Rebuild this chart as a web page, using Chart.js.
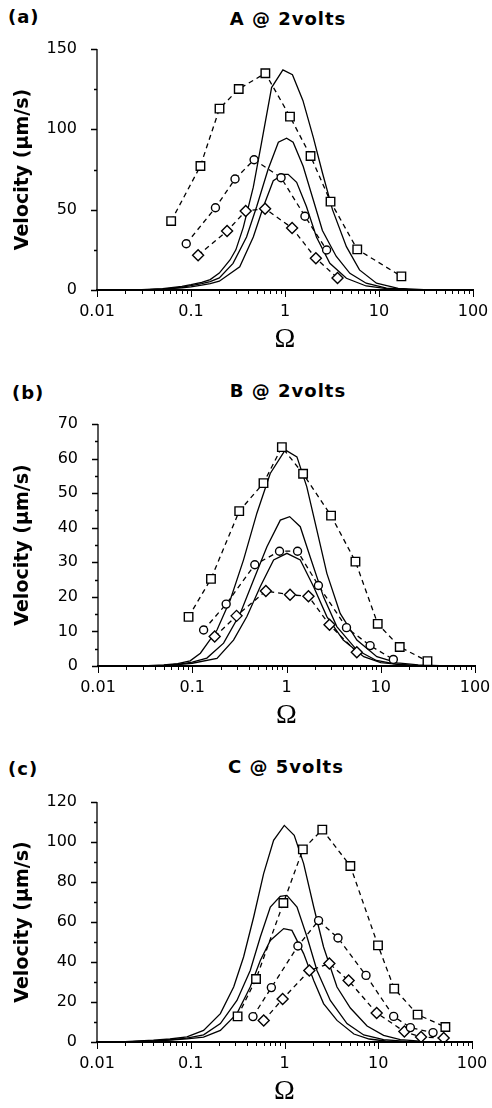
<!DOCTYPE html>
<html>
<head>
<meta charset="utf-8">
<script src="https://cdn.jsdelivr.net/npm/chart.js@4.4.1/dist/chart.umd.min.js"></script>
<style>
  body { margin: 0; background: #fff; }
  #page { position: relative; width: 492px; height: 1108px; overflow: hidden; background: #fff; }
  canvas { position: absolute; left: 0; }
  .lbl { position: absolute; font-family: 'DejaVu Sans'; font-weight: bold; font-size: 18px; line-height: 18px; white-space: nowrap; color: #000; letter-spacing: 1px; }
  .ttl { transform: translateX(-50%); }
</style>
</head>
<body>
<div id="page">
  <div class="lbl" style="left:8px;top:8px">(a)</div>
  <div class="lbl ttl" style="left:288px;top:10px">A @ 2volts</div>
  <div class="lbl" style="left:12px;top:384px">(b)</div>
  <div class="lbl ttl" style="left:288px;top:382px">B @ 2volts</div>
  <div class="lbl" style="left:8px;top:760px">(c)</div>
  <div class="lbl ttl" style="left:286px;top:758px">C @ 5volts</div>
  <canvas id="chartA"></canvas>
  <canvas id="chartB"></canvas>
  <canvas id="chartC"></canvas>
</div>
<script>
// x axis: frequency Omega (log), y axis: velocity in um/s
const xDecades = [0.01, 0.1, 1, 10, 100];

// (a) A @ 2volts - measured points
const aSquareOmega = [0.0615, 0.126, 0.201, 0.322, 0.618, 1.13, 1.87, 3.05, 5.87, 17.3];
const aSquareVel = [42.9, 77.2, 112.9, 125.1, 134.9, 107.9, 83.4, 55, 25.3, 8.5];
const aCircleOmega = [0.089, 0.182, 0.294, 0.469, 0.908, 1.63, 2.77];
const aCircleVel = [28.8, 51.2, 69.1, 81.1, 69.9, 45.9, 24.9];
const aDiamondOmega = [0.119, 0.242, 0.382, 0.614, 1.19, 2.13, 3.62];
const aDiamondVel = [21.6, 36.7, 49.2, 50.6, 38.6, 19.7, 7.5];
// (a) model curves
const aFitHighOmega = [0.02, 0.03, 0.05, 0.08, 0.1, 0.13, 0.16, 0.2, 0.26, 0.3, 0.36, 0.46, 0.56, 0.72, 0.95, 1.2, 1.55, 2, 2.5, 3.2, 4.5, 6.2, 9.4, 16, 30, 60, 100];
const aFitHighVel = [0, 0.2, 0.8, 2.2, 3.3, 4.8, 6.5, 10.5, 18.7, 25, 39, 64, 91, 126, 137, 134, 118, 95, 73, 50, 27, 12.5, 4.2, 1, 0.2, 0, 0];
const aFitMidOmega = [0.02, 0.03, 0.05, 0.08, 0.1, 0.13, 0.16, 0.2, 0.28, 0.39, 0.5, 0.66, 0.85, 1.04, 1.22, 1.56, 2, 2.5, 3.5, 4.9, 7.3, 12, 20, 40, 100];
const aFitMidVel = [0, 0.1, 0.6, 1.8, 2.7, 3.9, 5.2, 7.5, 16.6, 33, 52, 75, 92, 94.5, 92, 77, 56, 37, 21, 10.4, 4.2, 1.2, 0.3, 0, 0];
const aFitLowOmega = [0.02, 0.03, 0.05, 0.08, 0.1, 0.13, 0.16, 0.2, 0.33, 0.46, 0.59, 0.75, 0.96, 1.08, 1.33, 1.69, 2.16, 3, 4.5, 7.3, 12, 20, 40, 100];
const aFitLowVel = [0, 0.1, 0.5, 1.4, 2, 3, 4, 5.5, 14.5, 33, 52, 68, 72, 72, 67, 52, 33, 16.6, 7.3, 2.5, 0.8, 0.2, 0, 0];

// (b) B @ 2volts - measured points
const bSquareOmega = [0.0914, 0.158, 0.315, 0.57, 0.893, 1.5, 2.97, 5.39, 9.29, 15.9, 31.3];
const bSquareVel = [14.2, 25.2, 44.8, 52.9, 63.3, 55.6, 43.5, 30.2, 12.2, 5.5, 1.4];
const bCircleOmega = [0.132, 0.229, 0.461, 0.843, 1.31, 2.18, 4.33, 7.71, 13.6];
const bCircleVel = [10.4, 17.9, 29.3, 33.2, 33.2, 23.3, 11.1, 5.9, 1.9];
const bDiamondOmega = [0.173, 0.295, 0.604, 1.09, 1.71, 2.86, 5.57];
const bDiamondVel = [8.5, 14.5, 21.7, 20.6, 20.2, 11.9, 4.0];
// (b) model curves
const bFitHighOmega = [0.02, 0.03, 0.05, 0.07, 0.095, 0.122, 0.183, 0.253, 0.35, 0.485, 0.672, 0.97, 1.29, 1.64, 2.1, 2.68, 3.71, 5.58, 9.1, 15, 25, 50, 100];
const bFitHighVel = [0, 0.05, 0.3, 0.7, 1.5, 3.7, 10.4, 19.1, 30.7, 44.2, 55.7, 62.5, 60.5, 51.9, 39.3, 26.8, 15.2, 7.5, 2.7, 0.9, 0.3, 0, 0];
const bFitMidOmega = [0.02, 0.03, 0.05, 0.07, 0.1, 0.143, 0.215, 0.323, 0.447, 0.62, 0.86, 1.08, 1.4, 1.78, 2.47, 3.42, 5.58, 9, 15, 25, 50, 100];
const bFitMidVel = [0, 0.05, 0.2, 0.5, 1.1, 2.3, 6.6, 15.2, 24.9, 34.5, 42.2, 43.2, 40.3, 31.6, 20, 11.4, 4.6, 1.6, 0.5, 0.1, 0, 0];
const bFitLowOmega = [0.02, 0.03, 0.05, 0.07, 0.1, 0.183, 0.274, 0.38, 0.526, 0.73, 1.01, 1.4, 1.94, 2.68, 4, 6.6, 10, 20, 50, 100];
const bFitLowVel = [0, 0.03, 0.15, 0.4, 0.8, 2.2, 7.5, 14.3, 22.9, 30.7, 32.6, 30.7, 22.9, 14.3, 7.5, 2.7, 1, 0.2, 0, 0];

// (c) C @ 5volts - measured points
const cSquareOmega = [0.316, 0.497, 0.973, 1.57, 2.53, 5.04, 9.94, 14.8, 26.3, 52];
const cSquareVel = [12.8, 31.5, 69.5, 96.3, 106.2, 88, 48.3, 26.7, 13.7, 7.5];
const cCircleOmega = [0.461, 0.724, 1.39, 2.31, 3.72, 7.4, 14.6, 22, 38.4];
const cCircleVel = [12.7, 27.2, 48, 60.7, 52, 33.3, 12.8, 7.2, 4.7];
const cDiamondOmega = [0.6, 0.955, 1.84, 3.01, 4.83, 9.62, 19, 28.6, 49.9];
const cDiamondVel = [10.7, 21.5, 35.7, 39.2, 30.7, 14.5, 5.2, 2.5, 2.0];
// (c) model curves
const cFitHighOmega = [0.02, 0.04, 0.06, 0.091, 0.137, 0.207, 0.287, 0.366, 0.469, 0.599, 0.765, 0.995, 1.27, 1.6, 2.05, 2.61, 3.63, 5.04, 7.6, 11.4, 17.2, 30, 60, 100];
const cFitHighVel = [0.2, 0.9, 1.5, 2.6, 5.8, 14.2, 27.5, 42.5, 62.5, 84.2, 100.8, 108.3, 103.3, 89.2, 67.5, 47.5, 27.5, 17, 8, 3.3, 1.2, 0.3, 0, 0];
const cFitMidOmega = [0.02, 0.04, 0.06, 0.091, 0.137, 0.207, 0.311, 0.431, 0.552, 0.706, 0.9, 1.06, 1.36, 1.74, 2.22, 3.08, 4.64, 7, 11.4, 20, 50, 100];
const cFitMidVel = [0.1, 0.6, 1.1, 1.9, 3.6, 9.2, 20.8, 35.8, 52.5, 67.5, 72.8, 73.3, 67.5, 52.5, 35.8, 20.8, 9.2, 3.5, 1.2, 0.3, 0, 0];
const cFitLowOmega = [0.02, 0.04, 0.06, 0.091, 0.137, 0.207, 0.311, 0.431, 0.552, 0.706, 0.98, 1.2, 1.6, 2.05, 2.61, 3.63, 5.5, 8, 12, 20, 50, 100];
const cFitLowVel = [0.1, 0.5, 1, 1.6, 2.4, 5.8, 14.2, 27.5, 40.8, 50.8, 56.7, 55.8, 44.2, 30.8, 19.2, 10.8, 4, 1.5, 0.5, 0.1, 0, 0];

Chart.defaults.font.family = "'DejaVu Sans', sans-serif";
Chart.defaults.font.size = 16;
Chart.defaults.color = '#000';

function pairs(xs, ys) {
    return xs.map((x, i) => ({ x: x, y: ys[i] }));
}

function markerSet(xs, ys, style, radius) {
    return {
        data: pairs(xs, ys),
        showLine: true,
        borderColor: '#000',
        borderWidth: 1.3,
        borderDash: [5, 4],
        pointStyle: style,
        pointRadius: radius,
        pointBorderWidth: 1.4,
        pointBorderColor: '#000',
        pointBackgroundColor: '#fff',
        order: 0
    };
}

function fitSet(xs, ys) {
    return {
        data: pairs(xs, ys),
        showLine: true,
        borderColor: '#000',
        borderWidth: 1.3,
        pointRadius: 0,
        tension: 0,
        order: 1
    };
}

// axis lines and tick marks drawn like the paper figure
const paperAxes = {
    id: 'paperAxes',
    afterDatasetsDraw(chart, args, opts) {
        const { ctx, chartArea: area, scales: { x, y } } = chart;
        ctx.save();
        ctx.strokeStyle = '#000';
        ctx.setLineDash([]);

        ctx.lineWidth = 1.3;
        ctx.beginPath();
        ctx.moveTo(area.left, area.bottom);
        ctx.lineTo(area.left, area.top);
        for (let v = 0; v <= y.max + 1e-9; v += opts.minorStep) {
            const py = Math.round(y.getPixelForValue(v)) + 0.5;
            const major = Math.abs(v / opts.majorStep - Math.round(v / opts.majorStep)) < 1e-6;
            ctx.moveTo(area.left - (major ? 6 : 3), py);
            ctx.lineTo(area.left, py);
        }
        ctx.stroke();

        ctx.lineWidth = 1;
        ctx.beginPath();
        xDecades.forEach(d => {
            const last = d === xDecades[xDecades.length - 1];
            for (let m = 1; m <= (last ? 1 : 9); m++) {
                const px = Math.round(x.getPixelForValue(m * d)) + 0.5;
                ctx.moveTo(px, area.bottom);
                ctx.lineTo(px, area.bottom + (m === 1 ? 7 : 4));
            }
        });
        ctx.stroke();

        ctx.lineWidth = 2;
        ctx.beginPath();
        ctx.moveTo(area.left - 1, area.bottom);
        ctx.lineTo(area.right + 1, area.bottom);
        ctx.stroke();
        ctx.restore();
    }
};

function makePanel(id, box, yMax, yStep, yMinor, datasets) {
    const canvas = document.getElementById(id);
    canvas.width = 492;
    canvas.height = box.height;
    canvas.style.top = box.top + 'px';
    return new Chart(canvas.getContext('2d'), {
        type: 'scatter',
        data: { datasets: datasets },
        options: {
            responsive: false,
            animation: false,
            events: [],
            layout: {
                padding: { top: box.areaTop - box.top, right: 492 - box.areaRight, left: 0, bottom: 0 }
            },
            plugins: {
                legend: { display: false },
                tooltip: { enabled: false },
                paperAxes: { majorStep: yStep, minorStep: yMinor }
            },
            scales: {
                x: {
                    type: 'logarithmic',
                    min: 0.01,
                    max: 100,
                    // tick marks come from paperAxes; tickLength only spaces the labels
                    grid: { display: false, drawTicks: true, tickLength: 12 },
                    border: { display: false },
                    afterBuildTicks: scale => { scale.ticks = xDecades.map(v => ({ value: v })); },
                    afterFit: scale => { scale.height = box.height - (box.areaBottom - box.top); },
                    ticks: {
                        autoSkip: false,
                        maxRotation: 0,
                        padding: 0,
                        callback: v => String(v)
                    },
                    title: {
                        display: true,
                        text: 'Ω',
                        font: { family: "'Liberation Serif', serif", size: 28, lineHeight: 1 },
                        padding: { top: 0, bottom: 2 }
                    }
                },
                y: {
                    min: 0,
                    max: yMax,
                    grid: { display: false, drawTicks: true, tickLength: 20 },
                    border: { display: false },
                    afterFit: scale => { scale.width = box.areaLeft; },
                    ticks: { stepSize: yStep, padding: 0 },
                    title: {
                        display: true,
                        text: 'Velocity (μm/s)',
                        font: { size: 19, weight: 'bold' },
                        padding: { top: 12, bottom: 0 }
                    }
                }
            }
        },
        plugins: [paperAxes]
    });
}

makePanel('chartA', { top: 0, height: 356, areaTop: 49, areaBottom: 290, areaLeft: 97, areaRight: 473 }, 150, 50, 25, [
    markerSet(aSquareOmega, aSquareVel, 'rect', 6),
    markerSet(aCircleOmega, aCircleVel, 'circle', 4),
    markerSet(aDiamondOmega, aDiamondVel, 'rectRot', 5.5),
    fitSet(aFitHighOmega, aFitHighVel),
    fitSet(aFitMidOmega, aFitMidVel),
    fitSet(aFitLowOmega, aFitLowVel)
]);

makePanel('chartB', { top: 360, height: 372, areaTop: 424, areaBottom: 666, areaLeft: 98, areaRight: 475 }, 70, 10, 5, [
    markerSet(bSquareOmega, bSquareVel, 'rect', 6),
    markerSet(bCircleOmega, bCircleVel, 'circle', 4),
    markerSet(bDiamondOmega, bDiamondVel, 'rectRot', 5.5),
    fitSet(bFitHighOmega, bFitHighVel),
    fitSet(bFitMidOmega, bFitMidVel),
    fitSet(bFitLowOmega, bFitLowVel)
]);

makePanel('chartC', { top: 738, height: 370, areaTop: 802, areaBottom: 1042, areaLeft: 97, areaRight: 472 }, 120, 20, 10, [
    markerSet(cSquareOmega, cSquareVel, 'rect', 6),
    markerSet(cCircleOmega, cCircleVel, 'circle', 4),
    markerSet(cDiamondOmega, cDiamondVel, 'rectRot', 5.5),
    fitSet(cFitHighOmega, cFitHighVel),
    fitSet(cFitMidOmega, cFitMidVel),
    fitSet(cFitLowOmega, cFitLowVel)
]);
</script>
</body>
</html>
